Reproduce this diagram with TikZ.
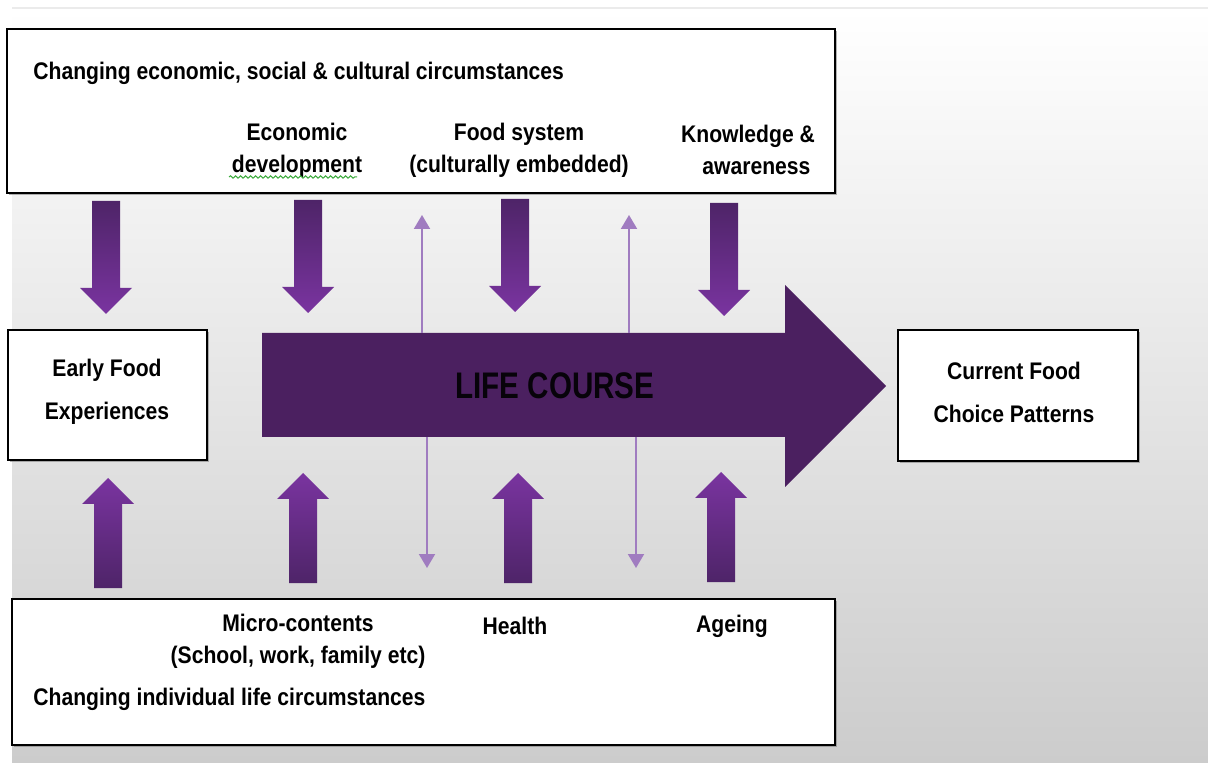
\documentclass[tikz,border=0pt]{standalone}
\usepackage{fontspec}
\setmainfont{Liberation Sans}[FakeStretch=0.88]
\newfontfamily\lifefont{Liberation Sans}[FakeStretch=0.8]
\usetikzlibrary{arrows.meta,shadows,decorations.pathmorphing}

\definecolor{lifepurple}{RGB}{75,32,96}
\definecolor{arrowdark}{RGB}{78,36,104}
\definecolor{arrowlight}{RGB}{122,52,160}
\definecolor{linkpurple}{RGB}{160,124,192}
\definecolor{spellgreen}{RGB}{60,170,60}

\tikzset{
  box/.style={draw=black, line width=1pt, fill=white,
    drop shadow={shadow xshift=0.8pt, shadow yshift=-0.8pt, opacity=0.6}},
  lbl/.style={font=\bfseries\fontsize{12}{16}\selectfont, align=center, inner sep=0pt},
  boxlbl/.style={font=\bfseries\fontsize{12}{21.5}\selectfont, align=center, inner sep=0pt},
  link/.style={draw=linkpurple, line width=1pt, -{Triangle[width=8pt,length=7pt]}},
  down block/.pic={\shade[top color=arrowdark, bottom color=arrowlight]
    (-14,0) -- (14,0) -- (14,87) -- (26,87) -- (0,113) -- (-26,87) -- (-14,87) -- cycle;},
  up block/.pic={\shade[top color=arrowlight, bottom color=arrowdark]
    (-14,0) -- (14,0) -- (14,-84) -- (26,-84) -- (0,-110) -- (-26,-84) -- (-14,-84) -- cycle;},
}

\begin{document}
\begin{tikzpicture}[x=0.5pt, y=-0.5pt]
\useasboundingbox (0,0) rectangle (1208,763);
% background, white fading to grey
\shade[top color=white, bottom color=black!20] (12,9) rectangle (1208,763);
\draw[black!8, line width=1pt] (12,8) -- (1208,8);

% top box: changing circumstances
\node[box, minimum width=414pt, minimum height=82pt] (econbox) at (421,111) {};
\node[lbl, anchor=west] (econtitle) at (33,73) {Changing economic, social \& cultural circumstances};
\node[lbl] (econdev) at (297,150) {Economic\\development};
\node[lbl] (foodsys) at (519,150) {Food system\\(culturally embedded)};
\node[lbl] (knowledge) at (748,150) {Knowledge \&\\\hspace{0.7em}awareness};
% spell check squiggle
\draw[spellgreen, line width=0.5pt, decorate, decoration={snake, amplitude=0.6pt, segment length=2.5pt}] (229,177) -- (357,177);

% left and right boxes
\node[box, minimum width=99.5pt, minimum height=65pt] (earlybox) at (107.5,395) {};
\node[boxlbl] (early) at (107,392) {Early Food\\Experiences};
\node[box, minimum width=120pt, minimum height=65.5pt] (choicebox) at (1018,395.5) {};
\node[boxlbl] (choice) at (1014,392) {Current Food\\Choice Patterns};

% bottom box: individual circumstances
\node[box, minimum width=411.5pt, minimum height=73pt] (lifebox) at (423.5,672) {};
\node[lbl] (micro) at (298,641) {Micro-contents\\(School, work, family etc)};
\node[lbl] (health) at (515,626) {Health};
\node[lbl] (ageing) at (732,626) {Ageing};
\node[lbl, anchor=west] (lifetitle) at (33,699) {Changing individual life circumstances};

% big arrow: life course
\fill[lifepurple] (262,333) -- (785,333) -- (785,285) -- (886,386) -- (785,487) -- (785,437) -- (262,437) -- cycle;
\coordinate (shafttop) at (262,333);
\coordinate (shaftbot) at (262,437);
\node[font=\lifefont\bfseries\fontsize{18.5}{20}\selectfont, text=black!90!lifepurple] (course) at (555,386) {LIFE COURSE};

% block arrows from above
\pic at (106,201) {down block};
\pic at (308,200) {down block};
\pic at (515,199) {down block};
\pic at (724,203) {down block};
% block arrows from below
\pic at (108,588) {up block};
\pic at (303,583) {up block};
\pic at (518,583) {up block};
\pic at (721,582) {up block};

% thin feedback arrows
\coordinate (fbup1) at (422,215);
\coordinate (fbup2) at (629,215);
\coordinate (fbdn1) at (427,568);
\coordinate (fbdn2) at (636,568);
\draw[link] (shafttop -| fbup1) -- (fbup1);
\draw[link] (shafttop -| fbup2) -- (fbup2);
\draw[link] (shaftbot -| fbdn1) -- (fbdn1);
\draw[link] (shaftbot -| fbdn2) -- (fbdn2);
\end{tikzpicture}
\end{document}
